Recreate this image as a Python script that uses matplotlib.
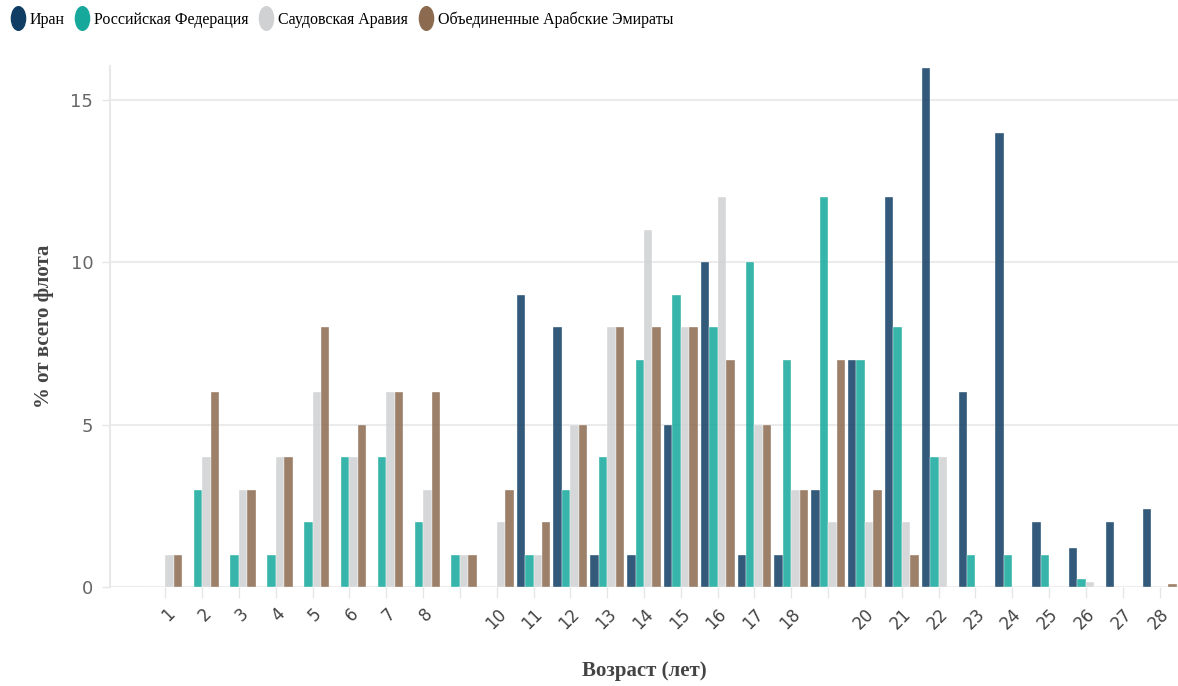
import numpy as np
import matplotlib.pyplot as plt
from matplotlib.lines import Line2D
from matplotlib.path import Path
from matplotlib.transforms import Affine2D

ages = list(range(1, 29))
age_labels = ["" if a in (9, 19) else str(a) for a in ages]

series = ["Иран", "Российская Федерация", "Саудовская Аравия", "Объединенные Арабские Эмираты"]
iran = [0, 0, 0, 0, 0, 0, 0, 0, 0, 0, 9, 8, 1, 1, 5, 10, 1, 1, 3, 7, 12, 16, 6, 14, 2, 1.2, 2, 2.4]
russia = [0, 3, 1, 1, 2, 4, 4, 2, 1, 0, 1, 3, 4, 7, 9, 8, 10, 7, 12, 7, 8, 4, 1, 1, 1, 0.25, 0, 0]
saudi = [1, 4, 3, 4, 6, 4, 6, 3, 1, 2, 1, 5, 8, 11, 8, 12, 5, 3, 2, 2, 2, 4, 0, 0, 0, 0.15, 0, 0]
uae = [1, 6, 3, 4, 8, 5, 6, 6, 1, 3, 2, 5, 8, 8, 8, 7, 5, 3, 7, 3, 1, 0, 0, 0, 0, 0, 0, 0.1]
colors = ["#0f3d63", "#15a89b", "#cfd1d2", "#8b6a4f"]

fig = plt.figure(figsize=(11.78, 6.86), dpi=100)
ax = fig.add_axes([110 / 1178, 99 / 686, 1 - 110 / 1178, 521 / 686])

x = np.array(ages)
w = 0.23
for i, (vals, col) in enumerate(zip([iran, russia, saudi, uae], colors)):
    ax.bar(x + (i - 1.5) * w, vals, width=w, color=col, alpha=0.85,
           edgecolor="white", linewidth=0.3, zorder=2)

ax.set_xlim(-0.5, 28.5)
ax.set_ylim(0, 16.05)
ax.set_yticks([0, 5, 10, 15])
ax.set_xticks(x)
ax.set_xticklabels(age_labels, rotation=45, ha="right", rotation_mode="anchor",
                   fontsize=12, color="#444444", family="DejaVu Sans")
ax.tick_params(axis="x", length=8, width=1, color="#e6e6e6", pad=5)
ax.tick_params(axis="y", length=6, width=1, color="#e6e6e6", labelsize=13,
               labelcolor="#666666", pad=6)
ax.grid(axis="y", color="#ebebeb", linewidth=1.5)
ax.set_axisbelow(True)
for s in ["top", "right", "bottom"]:
    ax.spines[s].set_visible(False)
ax.spines["left"].set_color("#e8e8e8")
ax.spines["left"].set_linewidth(1.5)

ax.set_xlabel("Возраст (лет)", fontsize=15, fontweight="bold", family="Liberation Serif",
              color="#444444", labelpad=20)
ax.set_ylabel("% от всего флота", fontsize=15, fontweight="bold", family="Liberation Serif",
              color="#444444", labelpad=12)

oval = Path.unit_circle().transformed(Affine2D().scale(0.6, 1.0))
handles = [Line2D([], [], linestyle="none", marker=oval, markersize=17,
                  markerfacecolor=c, markeredgecolor=c) for c in colors]
fig.legend(handles, series, loc="upper left", bbox_to_anchor=(0.0, 1.0), ncol=4,
           frameon=False, handlelength=0.8, handletextpad=0.35, columnspacing=0.7,
           prop={"family": "Liberation Serif", "size": 11.5}, borderaxespad=0.3)

fig.savefig("out.png", dpi=100)
